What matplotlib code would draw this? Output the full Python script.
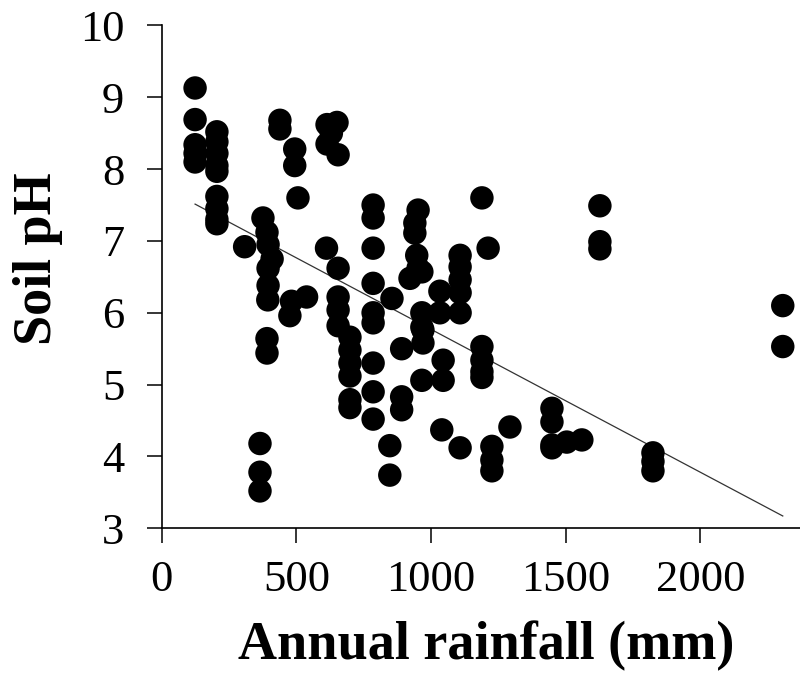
import matplotlib
matplotlib.use("Agg")
import matplotlib.pyplot as plt
import numpy as np

# annual rainfall (mm) and soil pH
rainfall = [
    124, 124, 124, 124, 124,
    205, 205, 205, 205, 205, 205, 205, 205, 205,
    308, 439, 439, 494, 494, 506,
    614, 614, 651, 655, 630,
    376, 391, 395, 410, 395, 395, 394, 391, 391, 365, 365, 365,
    482, 538, 476,
    612, 655, 655, 655, 655, 699, 699, 699, 699, 699, 699,
    785, 785, 785, 785, 785, 785, 785, 785, 785,
    855, 891, 891, 891, 847, 847,
    952, 940, 940, 947, 952, 922, 966,
    966, 966, 970, 966, 970,
    1033, 1033, 1045, 1045, 1040,
    1108, 1108, 1108, 1108, 1108, 1108,
    1189, 1212, 1189, 1189, 1189, 1189,
    1226, 1226, 1226, 1293,
    1449, 1449, 1449, 1449, 1504, 1560,
    1627, 1627, 1627,
    1824, 1824, 1824,
    2306, 2306,
]
soil_ph = [
    9.13, 8.69, 8.34, 8.22, 8.10,
    8.52, 8.38, 8.22, 8.05, 7.97, 7.62, 7.45, 7.30, 7.24,
    6.92, 8.68, 8.56, 8.28, 8.05, 7.60,
    8.62, 8.35, 8.65, 8.20, 8.50,
    7.32, 7.12, 6.95, 6.75, 6.62, 6.38, 6.18, 5.64, 5.44, 4.18, 3.78, 3.52,
    6.16, 6.22, 5.96,
    6.90, 6.62, 6.22, 6.04, 5.82, 5.66, 5.48, 5.30, 5.12, 4.79, 4.68,
    7.50, 7.32, 6.90, 6.41, 6.00, 5.86, 5.30, 4.90, 4.52,
    6.20, 5.50, 4.83, 4.65, 4.15, 3.74,
    7.43, 7.25, 7.11, 6.80, 6.62, 6.48, 6.57,
    6.00, 5.80, 5.58, 5.06, 5.76,
    6.30, 6.00, 5.34, 5.06, 4.37,
    6.80, 6.64, 6.46, 6.28, 6.00, 4.12,
    7.60, 6.90, 5.53, 5.34, 5.18, 5.10,
    4.14, 3.95, 3.80, 4.41,
    4.67, 4.48, 4.16, 4.12, 4.20, 4.23,
    7.49, 6.99, 6.89,
    4.05, 3.93, 3.80,
    6.10, 5.53,
]

# linear trend
trend_intercept = 7.76
trend_slope = -0.00199

x_ticks = [0, 500, 1000, 1500, 2000]
y_ticks = [3, 4, 5, 6, 7, 8, 9, 10]

plt.rcParams["font.family"] = ["Liberation Serif", "DejaVu Serif"]

fig = plt.figure(figsize=(8, 6.91), dpi=100)
ax = fig.add_axes([0.2021, 0.2355, 0.7979, 0.7276])

ax.scatter(rainfall, soil_ph, s=285, color="black", edgecolors="none", zorder=3, clip_on=False)

xs = np.array([min(rainfall), max(rainfall)])
ax.plot(xs, trend_intercept + trend_slope * xs, color="#333333", linewidth=0.9, zorder=2)

ax.set_xlim(0, 2370)
ax.set_ylim(3, 10)
ax.set_xticks(x_ticks)
ax.set_yticks(y_ticks)
ax.set_xticklabels([str(v) for v in x_ticks])
ax.set_yticklabels([str(v) for v in y_ticks])

for side in ["top", "right"]:
    ax.spines[side].set_visible(False)
for side in ["left", "bottom"]:
    ax.spines[side].set_color("black")
    ax.spines[side].set_linewidth(1.2)

ax.tick_params(axis="both", direction="out", length=11, width=1.1, labelsize=32, colors="black")
ax.tick_params(axis="x", pad=12)
ax.tick_params(axis="y", pad=16)

ax.set_xlabel("Annual rainfall (mm)", fontsize=39, fontweight="bold")
ax.set_ylabel("Soil pH", fontsize=39, fontweight="bold")
ax.xaxis.set_label_coords(0.508, -0.235)
ax.yaxis.set_label_coords(-0.193, 0.537)
ax.xaxis.label.set_va("center")
ax.yaxis.label.set_va("center")

fig.savefig("out.png", dpi=100)
